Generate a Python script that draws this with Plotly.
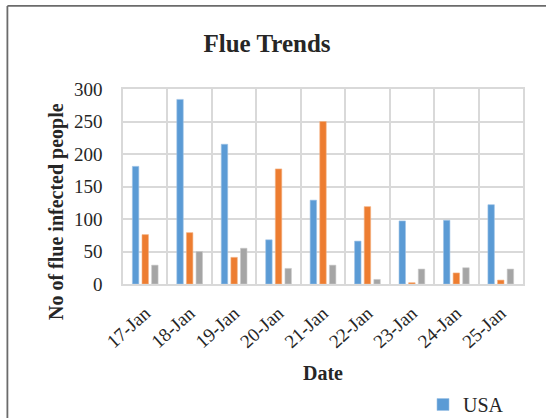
import plotly.graph_objects as go

# Daily counts of flu cases, 17-25 January
dates = ["17-Jan", "18-Jan", "19-Jan", "20-Jan", "21-Jan",
         "22-Jan", "23-Jan", "24-Jan", "25-Jan"]
usa = [181, 284, 215, 68, 129, 66, 97, 98, 122]
series_b = [76, 79, 41, 177, 250, 119, 2, 17, 6]
series_c = [29, 50, 55, 24, 29, 7, 23, 25, 23]

BLUE = "#5B9BD5"
ORANGE = "#ED7D31"
GRAY = "#A5A5A5"
GRID = "#D9D9D9"
TEXT = "#262626"
FONT = "Liberation Serif"
W, H = 546, 418

fig = go.Figure()
fig.add_trace(go.Bar(x=dates, y=usa, name="USA", marker_color=BLUE,
                     marker_line=dict(color="#9DC3E6", width=0.6)))
fig.add_trace(go.Bar(x=dates, y=series_b, name="Series 2", marker_color=ORANGE,
                     marker_line=dict(color="#F4B183", width=0.6), showlegend=False))
fig.add_trace(go.Bar(x=dates, y=series_c, name="Series 3", marker_color=GRAY,
                     marker_line=dict(color="#C9C9C9", width=0.6), showlegend=False))

# outer chart frame (left and top edges visible)
fig.add_shape(type="line", xref="paper", yref="paper",
              x0=-0.289, x1=-0.289, y0=1.426, y1=-0.7,
              line=dict(color="#6b6b6b", width=1.8))
fig.add_shape(type="line", xref="paper", yref="paper",
              x0=-0.289, x1=1.1, y0=1.426, y1=1.426,
              line=dict(color="#6b6b6b", width=1.8))

# y-axis title
fig.add_annotation(text="<b>No of flue infected people</b>",
                   xref="paper", yref="paper", x=(56 - 123) / 400, y=(284 - 212) / 195,
                   xanchor="center", yanchor="middle", textangle=-90, showarrow=False,
                   font=dict(size=20, family=FONT, color=TEXT))

fig.update_layout(
    width=W, height=H,
    margin=dict(l=123, r=23, t=89, b=134, autoexpand=False),
    paper_bgcolor="white", plot_bgcolor="white",
    barmode="group", bargap=0.35, bargroupgap=0.33,
    font=dict(family=FONT, color=TEXT),
    title=dict(text="<b>Flue Trends</b>", x=0.489, xanchor="center",
               y=1 - 43 / H, yanchor="middle",
               font=dict(size=25, family=FONT, color=TEXT)),
    showlegend=True,
    legend=dict(xref="container", yref="container",
                x=423 / W, y=1 - 385 / H, xanchor="left", yanchor="top",
                font=dict(size=20, family=FONT, color=TEXT),
                itemwidth=30, bgcolor="rgba(0,0,0,0)"),
)

fig.update_xaxes(
    type="category", tickson="boundaries", automargin=False,
    showgrid=True, gridcolor=GRID, gridwidth=1.5,
    showline=True, linecolor=GRID, linewidth=1.5, mirror=True,
    ticks="", tickangle=-42, ticklabelstandoff=9,
    tickfont=dict(size=19, family=FONT, color=TEXT),
    title=dict(text="<b>Date</b>", font=dict(size=20, family=FONT, color=TEXT),
               standoff=15),
)
fig.update_yaxes(
    range=[0, 300], dtick=50, automargin=False,
    showgrid=True, gridcolor=GRID, gridwidth=1.5,
    showline=True, linecolor=GRID, linewidth=1.5, mirror=True,
    zeroline=False, ticks="", ticklabelstandoff=15,
    tickfont=dict(size=19, family=FONT, color=TEXT),
)

fig.write_html("out.html")
